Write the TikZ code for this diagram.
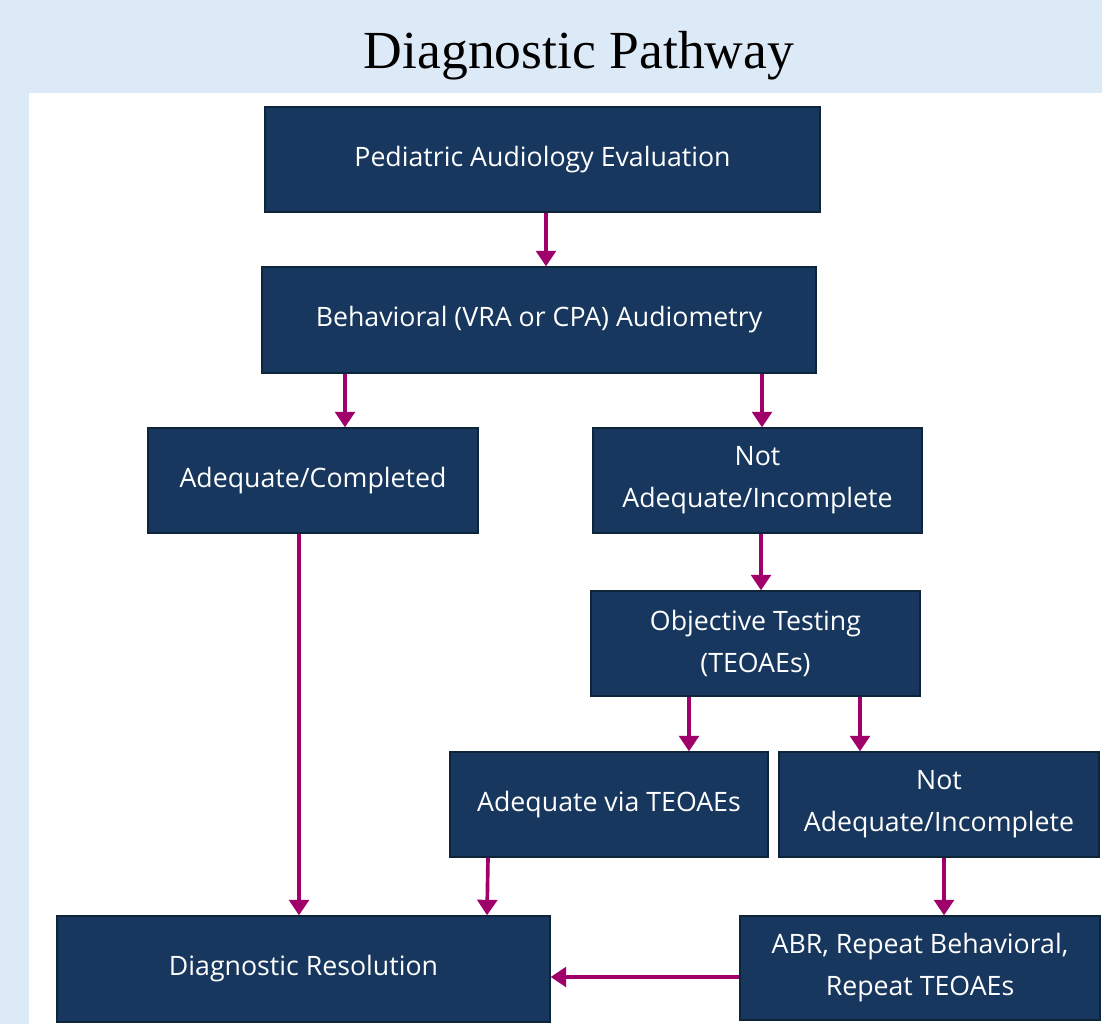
\documentclass[tikz,border=0pt]{standalone}
\usepackage{fontspec}
\setmainfont{Liberation Serif}
\newfontfamily\boxfont{Open Sans}
\usepackage{tikz}
\usetikzlibrary{arrows.meta}
\usetikzlibrary{calc}
\definecolor{bgblue}{HTML}{DCE9F6}
\definecolor{navy}{HTML}{17375E}
\definecolor{navyline}{HTML}{0E2438}
\definecolor{plum}{HTML}{A0006A}
\tikzset{box/.style={inner sep=0pt, draw=navyline, line width=1pt, fill=navy, text=white,
align=center, font=\boxfont\fontsize{19}{29.9}\selectfont, anchor=center}}
\tikzset{arr/.style={draw=plum, line width=2.6pt, -{Triangle[width=14pt,length=11pt]}}}

\begin{document}
\begin{tikzpicture}[x=0.025cm, y=-0.025cm]
	\fill[bgblue] (0,0) rectangle (1102,1024);
	\fill[white] (29,93) rectangle (1102,1024);
	\useasboundingbox (0,0) rectangle (1102,1024);
	\node [font=\fontsize{38.1}{40}\selectfont] (title) at (579,56) {Diagnostic Pathway};
	% boxes
	\node [box, minimum width=555*0.025cm, minimum height=105*0.025cm] (0) at (542.5,159.5) {Pediatric Audiology Evaluation};
	\node [box, minimum width=554*0.025cm, minimum height=106*0.025cm] (1) at (539,320) {Behavioral (VRA or CPA) Audiometry};
	\node [box, minimum width=330*0.025cm, minimum height=105*0.025cm] (2) at (313,480.5) {Adequate/Completed};
	\node [box, minimum width=329*0.025cm, minimum height=105*0.025cm] (3) at (757.5,480.5) {Not\\Adequate/Incomplete};
	\node [box, minimum width=329*0.025cm, minimum height=105*0.025cm] (4) at (755.5,643.5) {Objective Testing\\(TEOAEs)};
	\node [box, minimum width=318*0.025cm, minimum height=105*0.025cm] (5) at (609,804.5) {Adequate via TEOAEs};
	\node [box, minimum width=320*0.025cm, minimum height=105*0.025cm] (6) at (939,804.5) {Not\\Adequate/Incomplete};
	\node [box, minimum width=493*0.025cm, minimum height=106*0.025cm] (7) at (303.5,969) {Diagnostic Resolution};
	\node [box, minimum width=360*0.025cm, minimum height=104*0.025cm] (8) at (920,968) {ABR, Repeat Behavioral,\\Repeat TEOAEs};
	% arrows
	\draw [arr] (0.south -| 546,0) -- (1.north -| 546,0);
	\draw [arr] (1.south -| 345,0) -- (2.north -| 345,0);
	\draw [arr] (1.south -| 762,0) -- (3.north -| 762,0);
	\draw [arr] (3.south -| 761,0) -- (4.north -| 761,0);
	\draw [arr] (4.south -| 689,0) -- (5.north -| 689,0);
	\draw [arr] (4.south -| 860,0) -- (6.north -| 860,0);
	\draw [arr] (2.south -| 299,0) -- (7.north -| 299,0);
	\draw [arr] (5.south -| 488,0) -- (7.north -| 487,0);
	\draw [arr] (6.south -| 944,0) -- (8.north -| 944,0);
	\draw [arr] (8.west |- 0,977) -- (7.east |- 0,977);
\end{tikzpicture}
\end{document}
